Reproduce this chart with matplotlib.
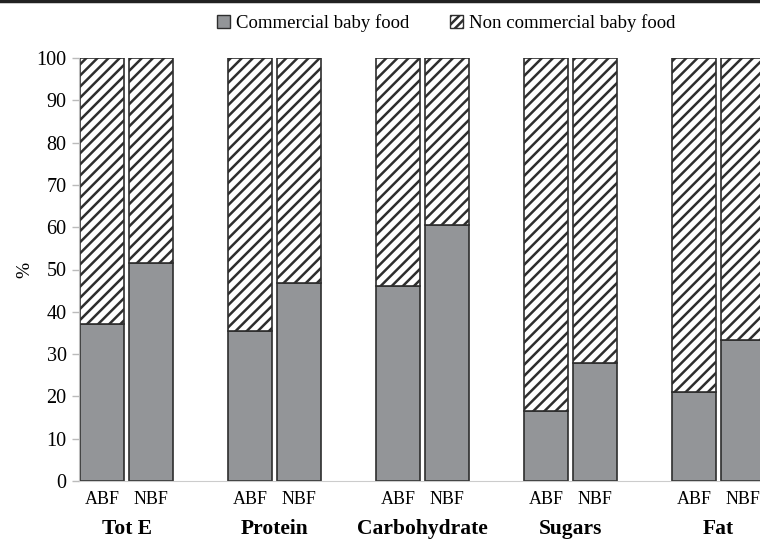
import matplotlib
matplotlib.use('Agg')
import matplotlib.pyplot as plt
from matplotlib.lines import Line2D
from matplotlib.patches import Patch
import numpy as np

categories = ['Tot E', 'Protein', 'Carbohydrate', 'Sugars', 'Fat']
bar_labels = ['ABF', 'NBF']
# % from commercial baby food, per category: [ABF, NBF]
commercial = [[37.0, 51.5],
              [35.5, 46.8],
              [46.0, 60.5],
              [16.6, 27.8],
              [21.0, 33.4]]

plt.rcParams['font.family'] = ['Liberation Serif', 'DejaVu Serif']
plt.rcParams['hatch.linewidth'] = 1.8

fig = plt.figure(figsize=(7.6, 5.39), dpi=100)
ax = fig.add_axes([79/760, 58/539, 740/760, 423/539])

gray = '#939598'
edge = '#2e2e2e'
w = 44/148
off = 24.5/148

xs = []
xl = []
for i, cat in enumerate(categories):
    for j, lab in enumerate(bar_labels):
        x = i + (-off if j == 0 else off)
        c = commercial[i][j]
        ax.bar(x, c, w, color=gray, edgecolor=edge, linewidth=1.2)
        ax.bar(x, 100 - c, w, bottom=c, color='white', edgecolor=edge,
               linewidth=1.2, hatch='///')
        xs.append(x)
        xl.append(lab)
    ax.text(i, -0.113, cat, transform=ax.get_xaxis_transform(),
            ha='center', va='center', fontsize=15.5, fontweight='bold')

ax.set_xticks(xs)
ax.set_xticklabels(xl, fontsize=13)
ax.tick_params(axis='x', length=0, pad=7)
ax.set_xlim(-47.5/148, 5 - 47.5/148)
ax.set_ylim(0, 100)
ax.set_yticks(range(0, 101, 10))
ax.tick_params(axis='y', labelsize=14.5, color='#bbbbbb', length=5, width=1, pad=4)
for s in ['top', 'right']:
    ax.spines[s].set_visible(False)
ax.spines['left'].set_color('#bbbbbb')
ax.spines['bottom'].set_color('#cccccc')
ax.set_ylabel('%', fontsize=14, labelpad=2)

handles = [Patch(facecolor=gray, edgecolor=edge, label='Commercial baby food'),
           Patch(facecolor='white', edgecolor=edge, hatch='////', label='Non commercial baby food')]
fig.legend(handles=handles, loc='center', bbox_to_anchor=(446/760, 1 - 23/539),
           ncol=2, frameon=False, fontsize=13.5, handlelength=0.7, handleheight=0.7,
           handletextpad=0.3, columnspacing=2.2)

fig.add_artist(Line2D([0, 1], [1 - 1/539, 1 - 1/539], color='#222222', linewidth=2.5,
                      transform=fig.transFigure))

fig.savefig('out.png', dpi=100)
